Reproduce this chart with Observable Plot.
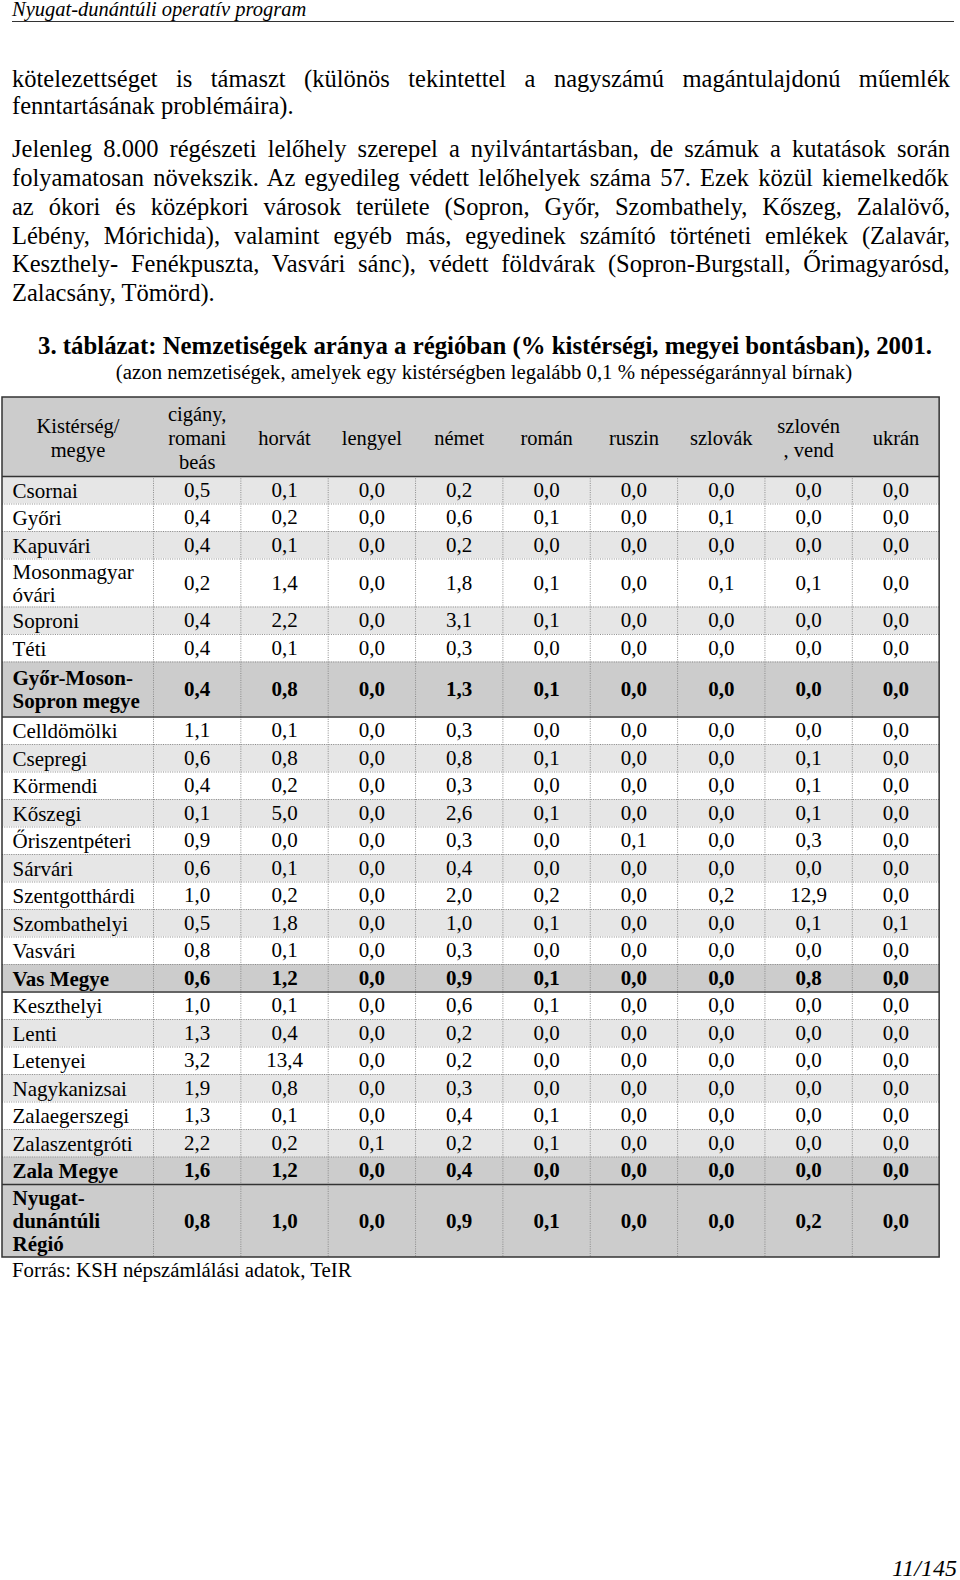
<!DOCTYPE html>
<html><head><meta charset="utf-8">
<script src="https://cdn.jsdelivr.net/npm/d3@7"></script>
<script src="https://cdn.jsdelivr.net/npm/@observablehq/plot@0.6"></script>
<style>
body{margin:0;background:#fff;font-family:"Liberation Serif","Times New Roman",serif;color:#000;}
#page{position:relative;width:960px;height:1580px;overflow:hidden;background:#fff;}
.ln{position:absolute;left:12px;width:938px;white-space:nowrap;font-size:24.5px;line-height:28px;height:28px;}
#chart{position:absolute;left:0;top:390px;}
</style></head><body><div id="page"><div id="chart"></div></div>
<script>
// ---- texts ----
const runningHead = "Nyugat-dunántúli operatív program";
const para1 = ["kötelezettséget is támaszt (különös tekintettel a nagyszámú magántulajdonú műemlék",
  "fenntartásának problémáira)."];
const para2 = ["Jelenleg 8.000 régészeti lelőhely szerepel a nyilvántartásban, de számuk a kutatások során",
  "folyamatosan növekszik. Az egyedileg védett lelőhelyek száma 57. Ezek közül kiemelkedők",
  "az ókori és középkori városok területe (Sopron, Győr, Szombathely, Kőszeg, Zalalövő,",
  "Lébény, Mórichida), valamint egyéb más, egyedinek számító történeti emlékek (Zalavár,",
  "Keszthely- Fenékpuszta, Vasvári sánc), védett földvárak (Sopron-Burgstall, Őrimagyarósd,",
  "Zalacsány, Tömörd)."];
const title = "3. táblázat: Nemzetiségek aránya a régióban (% kistérségi, megyei bontásban), 2001.";
const subtitle = "(azon nemzetiségek, amelyek egy kistérségben legalább 0,1 % népességaránnyal bírnak)";
const source = "Forrás: KSH népszámlálási adatok, TeIR";
const pageNo = "11/145";

// ---- table data ----
const firstHeader = "Kistérség/\nmegye";
const nationalities = ["cigány,\nromani\nbeás","horvát","lengyel","német","román","ruszin","szlovák","szlovén\n, vend","ukrán"];
const areas = ["Csornai","Győri","Kapuvári","Mosonmagyar\nóvári","Soproni","Téti","Győr-Moson-\nSopron megye",
  "Celldömölki","Csepregi","Körmendi","Kőszegi","Őriszentpéteri","Sárvári","Szentgotthárdi","Szombathelyi","Vasvári","Vas Megye",
  "Keszthelyi","Lenti","Letenyei","Nagykanizsai","Zalaegerszegi","Zalaszentgróti","Zala Megye","Nyugat-\ndunántúli\nRégió"];
const totalRows = ["Győr-Moson-\nSopron megye","Vas Megye","Zala Megye","Nyugat-\ndunántúli\nRégió"];
const cigany  = [0.5,0.4,0.4,0.2,0.4,0.4,0.4, 1.1,0.6,0.4,0.1,0.9,0.6,1.0,0.5,0.8,0.6, 1.0,1.3,3.2,1.9,1.3,2.2,1.6, 0.8];
const horvat  = [0.1,0.2,0.1,1.4,2.2,0.1,0.8, 0.1,0.8,0.2,5.0,0.0,0.1,0.2,1.8,0.1,1.2, 0.1,0.4,13.4,0.8,0.1,0.2,1.2, 1.0];
const lengyel = [0.0,0.0,0.0,0.0,0.0,0.0,0.0, 0.0,0.0,0.0,0.0,0.0,0.0,0.0,0.0,0.0,0.0, 0.0,0.0,0.0,0.0,0.0,0.1,0.0, 0.0];
const nemet   = [0.2,0.6,0.2,1.8,3.1,0.3,1.3, 0.3,0.8,0.3,2.6,0.3,0.4,2.0,1.0,0.3,0.9, 0.6,0.2,0.2,0.3,0.4,0.2,0.4, 0.9];
const roman   = [0.0,0.1,0.0,0.1,0.1,0.0,0.1, 0.0,0.1,0.0,0.1,0.0,0.0,0.2,0.1,0.0,0.1, 0.1,0.0,0.0,0.0,0.1,0.1,0.0, 0.1];
const ruszin  = [0.0,0.0,0.0,0.0,0.0,0.0,0.0, 0.0,0.0,0.0,0.0,0.1,0.0,0.0,0.0,0.0,0.0, 0.0,0.0,0.0,0.0,0.0,0.0,0.0, 0.0];
const szlovak = [0.0,0.1,0.0,0.1,0.0,0.0,0.0, 0.0,0.0,0.0,0.0,0.0,0.0,0.2,0.0,0.0,0.0, 0.0,0.0,0.0,0.0,0.0,0.0,0.0, 0.0];
const szloven = [0.0,0.0,0.0,0.1,0.0,0.0,0.0, 0.0,0.1,0.1,0.1,0.3,0.0,12.9,0.1,0.0,0.8, 0.0,0.0,0.0,0.0,0.0,0.0,0.0, 0.2];
const ukran   = [0.0,0.0,0.0,0.0,0.0,0.0,0.0, 0.0,0.0,0.0,0.0,0.0,0.0,0.0,0.1,0.0,0.0, 0.0,0.0,0.0,0.0,0.0,0.0,0.0, 0.0];
const series = [cigany,horvat,lengyel,nemet,roman,ruszin,szlovak,szloven,ukran];

// ---- page text ----
const page = document.getElementById("page");
const ctx = document.createElement("canvas").getContext("2d");
const bodyFont = '24.5px "Liberation Serif"';
function addLine(text, top, justify, style){
  const d = document.createElement("div");
  d.className = "ln";
  d.style.top = top + "px";
  if (style) Object.assign(d.style, style);
  d.textContent = text;
  if (justify) {
    ctx.font = bodyFont;
    const natural = ctx.measureText(text).width;
    const gaps = (text.match(/ /g) || []).length;
    if (gaps) d.style.wordSpacing = ((938 - natural) / gaps) + "px";
  }
  page.appendChild(d);
  return d;
}
addLine(runningHead, 0, false, {fontStyle:"italic", fontSize:"20.5px", lineHeight:"18px", height:"20px"});
const rule = document.createElement("div");
Object.assign(rule.style,{position:"absolute",left:"12px",width:"942px",top:"21px",height:"0",borderTop:"1px solid #333"});
page.appendChild(rule);
para1.forEach((t,i)=>addLine(t, 78.6 - 14 + i*27.2, i<para1.length-1));
para2.forEach((t,i)=>addLine(t, 149.1 - 14 + i*28.8, i<para2.length-1));
addLine(title, 345.6-14, false, {textAlign:"center", fontWeight:"bold", fontSize:"24.8px", left:"16px"});
addLine(subtitle, 371.7-14, false, {textAlign:"center", fontSize:"20.8px", left:"15px"});
addLine(source, 1270-14, false, {fontSize:"20.8px"});
addLine(pageNo, 1558, false, {textAlign:"right", fontStyle:"italic", fontSize:"24px", lineHeight:"20px", height:"20px", width:"945px"});

// ---- table layout ----
const svgTop = 390;
const tableTop = 397 - svgTop, headerH = 79;
const xLeft = 2, firstW = 151, colW = 87.35;
const colX0 = j => xLeft + firstW + j*colW;
const xRight = colX0(nationalities.length);
const rows = [];
let yy = tableTop + headerH;
areas.forEach((name,i)=>{
  const lines = name.split("\n").length;
  const total = totalRows.includes(name);
  const h = lines===1 ? 27.5 : lines===2 ? (total?55:48) : 73;
  rows.push({name, i, lines, total, y1: yy, y2: yy+h, ym: yy+h/2});
  yy += h;
});
const tableBottom = yy;
const cells = [];
rows.forEach(r=>series.forEach((s,j)=>cells.push({row:r, j, v:s[r.i], x:colX0(j)+colW/2})));
const fmt = v => v.toFixed(1).replace(".", ",");
const fillOf = r => r.total ? "#cccccc" : (r.i%2===0 ? "#e6e6e6" : "#ffffff");
const hHeads = nationalities.map((n,j)=>({n, x: colX0(j)+colW/2}));

const hLines = rows.slice(0,-1).map(r=>({y:r.y2, solid: r.total}));
const vLines = [];
rows.forEach(r=>{ for(let j=0;j<nationalities.length;j++) vLines.push({x:colX0(j), y1:r.y1, y2:r.y2}); });

const font = "Liberation Serif";
const chart = Plot.plot({
  width: 960, height: 870, margin: 0,
  x: {type:"identity", axis:null}, y: {type:"identity", axis:null},
  style: {fontFamily: font, background:"transparent"},
  marks: [
    Plot.rect([0], {x1: xLeft, x2: xRight, y1: tableTop, y2: tableTop+headerH, fill:"#cccccc"}),
    Plot.rect(rows, {x1: xLeft, x2: xRight, y1: "y1", y2: "y2", fill: fillOf}),
    Plot.ruleY(hLines.filter(d=>!d.solid), {y:"y", x1:xLeft, x2:xRight, stroke:"#8a8a8a", strokeWidth:1, strokeDasharray:"1,1.3"}),
    Plot.ruleX(vLines, {x:"x", y1:"y1", y2:"y2", stroke:"#8a8a8a", strokeWidth:1, strokeDasharray:"1,1.3"}),
    Plot.ruleY(hLines.filter(d=>d.solid), {y:"y", x1:xLeft, x2:xRight, stroke:"#333", strokeWidth:1.5}),
    Plot.ruleY([tableTop+headerH], {x1:xLeft, x2:xRight, stroke:"#333", strokeWidth:1.5}),
    Plot.rect([0], {x1:xLeft, x2:xRight, y1:tableTop, y2:tableBottom, fill:"none", stroke:"#333", strokeWidth:1.5}),
    Plot.text([firstHeader], {x: xLeft+firstW/2, y: tableTop+headerH/2, text: d=>d, fontSize:20.5, lineHeight:1.2, fill:"#000", fontFamily:font}),
    Plot.text(hHeads, {x:"x", y: tableTop+headerH/2, text:"n", fontSize:20.5, lineHeight:1.17, fill:"#000", fontFamily:font}),
    Plot.text(rows.filter(r=>!r.total), {x: 12, y:"ym", text:"name", textAnchor:"start", fontSize:21, lineHeight:1.1, fill:"#000", fontFamily:font}),
    Plot.text(rows.filter(r=>r.total), {x: 12, y:"ym", text:"name", textAnchor:"start", fontSize:21, fontWeight:"bold", lineHeight:1.1, fill:"#000", fontFamily:font}),
    Plot.text(cells.filter(c=>!c.row.total), {x:"x", y: c=>c.row.ym, text: c=>fmt(c.v), fontSize:21, fill:"#000", fontFamily:font}),
    Plot.text(cells.filter(c=>c.row.total), {x:"x", y: c=>c.row.ym, text: c=>fmt(c.v), fontSize:21, fontWeight:"bold", fill:"#000", fontFamily:font})
  ]
});
document.getElementById("chart").appendChild(chart);
</script>
</body></html>
